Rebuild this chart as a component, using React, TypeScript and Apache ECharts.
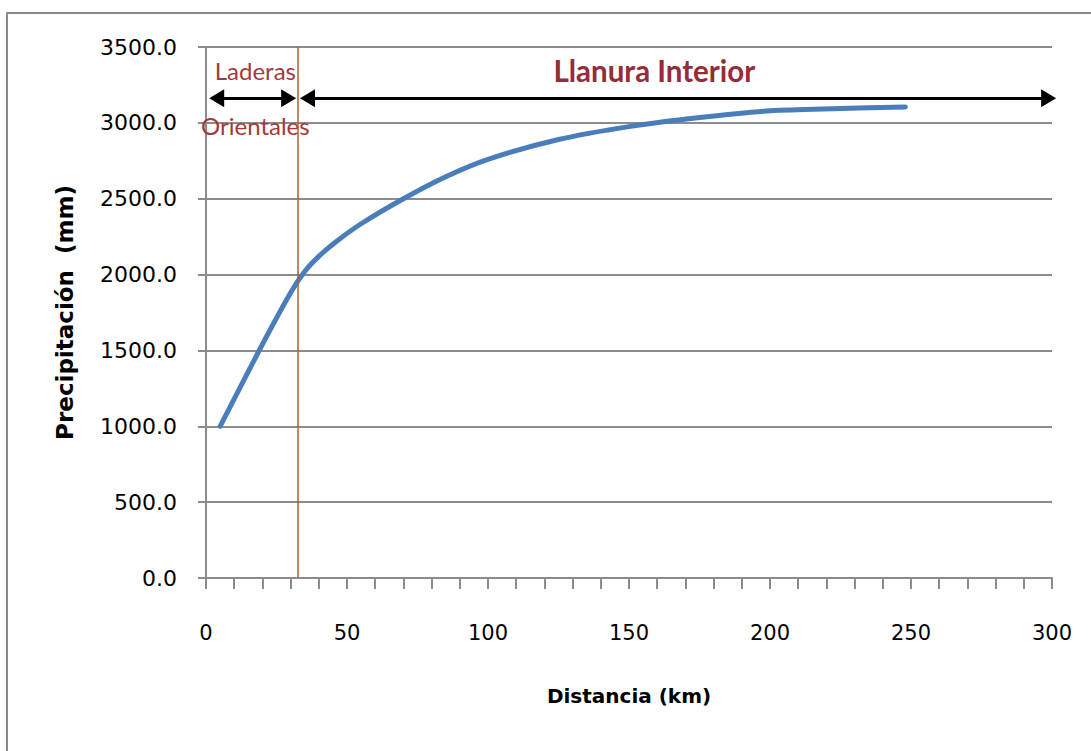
import React, { useEffect, useRef } from "react";
import * as echarts from "echarts";

// Precipitation profile along the distance from the coast
const distanceKm = [5, 20, 30, 35, 40, 46, 55, 70, 85, 100, 125, 150, 175, 200, 225, 248];
const precipitationMm = [1000, 1540, 1880, 2020, 2120, 2215, 2335, 2500, 2645, 2760, 2890, 2975, 3035, 3080, 3095, 3105];

// Axis settings
const xMin = 0;
const xMax = 300;
const xLabelStep = 50;
const xTickStep = 10;
const yMin = 0;
const yMax = 3500;
const yStep = 500;

// Boundary between the eastern slopes and the interior plain (km)
const slopeBoundaryKm = 32.7;

// Zone names and where they sit, in data units
const zoneNames = ["Laderas", "Orientales", "Llanura Interior"];
const zoneLabelX = [17.5, 17.5, 159];
const zoneLabelY = [3345, 2985, 3345];

// Double arrows marking each zone's extent (km), drawn at this precipitation level
const arrowLevel = 3163;
const slopeArrow = [3.8, 29.3];
const plainArrow = [36.0, 298.8];

const GRID = "#8c8c8c";
const SLOPE_TEXT = "#A33A3A";
const PLAIN_TEXT = "#962B3A";

export default function App() {
  const ref = useRef<HTMLDivElement>(null);

  useEffect(() => {
    const chart = echarts.init(ref.current!, null, { renderer: "svg" });

    const zoneData = zoneNames.map((name, i) => {
      const plain = i === 2;
      return {
        name,
        value: [zoneLabelX[i], zoneLabelY[i]],
        label: {
          fontSize: plain ? 29.5 : 24,
          fontWeight: plain ? "bold" : "normal",
          color: plain ? PLAIN_TEXT : SLOPE_TEXT,
        },
      };
    });

    chart.setOption({
      animation: false,
      backgroundColor: "#ffffff",
      graphic: [
        {
          type: "rect",
          shape: { x: 7, y: 13, width: 1200, height: 800 },
          style: { fill: "none", stroke: "#8a8a8a", lineWidth: 2 },
          silent: true,
        },
      ],
      grid: { left: 206, right: 39, top: 47, bottom: 173, containLabel: false },
      xAxis: {
        type: "value",
        min: xMin,
        max: xMax,
        interval: xTickStep,
        axisLine: { show: true, lineStyle: { color: GRID, width: 2 } },
        axisTick: { show: true, length: 11, lineStyle: { color: GRID, width: 2 } },
        splitLine: { show: false },
        axisLabel: {
          margin: 44,
          fontFamily: "DejaVu Sans",
          fontSize: 21,
          color: "#000",
          formatter: (v: number) => (v % xLabelStep === 0 ? String(v) : ""),
        },
        name: "Distancia (km)",
        nameLocation: "middle",
        nameGap: 108,
        nameTextStyle: {
          fontFamily: "DejaVu Sans",
          fontWeight: "bold",
          fontSize: 20,
          color: "#000",
        },
      },
      yAxis: {
        type: "value",
        min: yMin,
        max: yMax,
        interval: yStep,
        axisLine: { show: true, lineStyle: { color: GRID, width: 2 } },
        axisTick: { show: true, length: 8, lineStyle: { color: GRID, width: 2 } },
        splitLine: { show: true, lineStyle: { color: GRID, width: 2 } },
        axisLabel: {
          margin: 29,
          fontFamily: "DejaVu Sans",
          fontSize: 22,
          color: "#000",
          formatter: (v: number) => v.toFixed(1),
        },
        name: "Precipitación  (mm)",
        nameLocation: "middle",
        nameGap: 130,
        nameTextStyle: {
          fontFamily: "DejaVu Sans",
          fontWeight: "bold",
          fontSize: 23,
          color: "#000",
        },
      },
      series: [
        {
          name: "Precipitación",
          type: "line",
          data: distanceKm.map((d, i) => [d, precipitationMm[i]]),
          smooth: 0.3,
          showSymbol: false,
          symbol: "none",
          lineStyle: { color: "#4A7EBB", width: 5, cap: "round" },
          z: 3,
          markLine: {
            silent: true,
            symbol: "none",
            label: { show: false },
            lineStyle: { color: "#B85A30", width: 1.5, type: "solid" },
            data: [{ xAxis: slopeBoundaryKm }],
          },
        },
        {
          name: "Zonas",
          type: "scatter",
          clip: false,
          symbolSize: 1,
          itemStyle: { color: "transparent", opacity: 1 },
          data: zoneData,
          label: {
            show: true,
            position: "inside",
            formatter: (p: any) => p.name,
            fontFamily: "Lato",
          },
          z: 4,
          markLine: {
            silent: true,
            symbol: ["triangle", "triangle"],
            symbolSize: [18, 15],
            label: { show: false },
            lineStyle: { color: "#000", width: 3, type: "solid", opacity: 1 },
            itemStyle: { color: "#000", opacity: 1 },
            data: [
              [{ coord: [slopeArrow[0], arrowLevel] }, { coord: [slopeArrow[1], arrowLevel] }],
              [{ coord: [plainArrow[0], arrowLevel] }, { coord: [plainArrow[1], arrowLevel] }],
            ],
          },
        },
      ],
    });

    return () => chart.dispose();
  }, []);

  return (
    <div
      ref={ref}
      style={{ position: "fixed", left: 0, top: 0, width: 1091, height: 751, background: "#fff" }}
    />
  );
}
